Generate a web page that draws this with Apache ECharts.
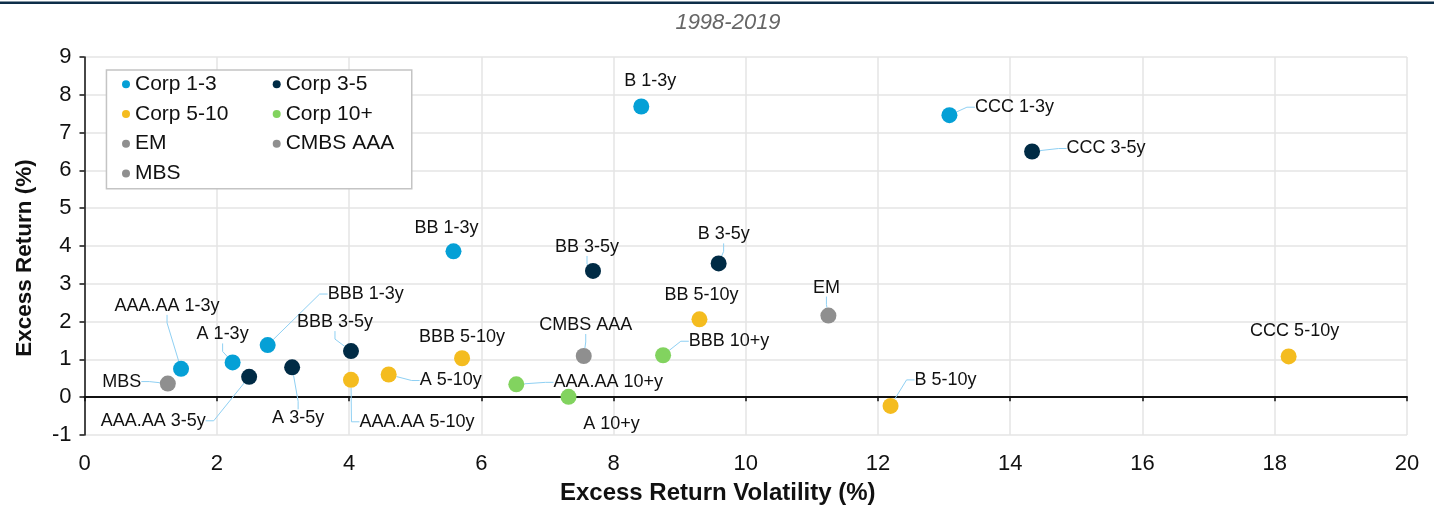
<!DOCTYPE html>
<html>
<head>
<meta charset="utf-8">
<script src="https://cdn.jsdelivr.net/npm/echarts@6.0.0/dist/echarts.min.js"></script>
<style>
  html, body { margin: 0; padding: 0; background: #fff; }
  #chart { width: 1434px; height: 506px; }
</style>
</head>
<body>
<div id="chart"></div>
<script>
  // values: volatility (x) and excess return (y), in %
  const corp13Names = ['AAA.AA 1-3y', 'A 1-3y', 'BBB 1-3y', 'BB 1-3y', 'B 1-3y', 'CCC 1-3y']
  const corp13Vol = [1.46, 2.24, 2.77, 5.58, 8.42, 13.08]
  const corp13Ret = [0.75, 0.92, 1.38, 3.86, 7.69, 7.46]

  const corp35Names = ['AAA.AA 3-5y', 'A 3-5y', 'BBB 3-5y', 'BB 3-5y', 'B 3-5y', 'CCC 3-5y']
  const corp35Vol = [2.49, 3.14, 4.03, 7.69, 9.59, 14.33]
  const corp35Ret = [0.54, 0.79, 1.22, 3.34, 3.54, 6.50]

  const corp510Names = ['AAA.AA 5-10y', 'A 5-10y', 'BBB 5-10y', 'BB 5-10y', 'B 5-10y', 'CCC 5-10y']
  const corp510Vol = [4.03, 4.60, 5.71, 9.30, 12.19, 18.21]
  const corp510Ret = [0.46, 0.60, 1.03, 2.06, -0.23, 1.08]

  const corp10pNames = ['AAA.AA 10+y', 'A 10+y', 'BBB 10+y']
  const corp10pVol = [6.53, 7.32, 8.75]
  const corp10pRet = [0.34, 0.01, 1.11]

  const emNames = ['EM']
  const emVol = [11.25]
  const emRet = [2.16]

  const cmbsNames = ['CMBS AAA']
  const cmbsVol = [7.55]
  const cmbsRet = [1.09]

  const mbsNames = ['MBS']
  const mbsVol = [1.26]
  const mbsRet = [0.36]

  const xTicks = { min: 0, max: 20, step: 2 }
  const yTicks = { min: -1, max: 9, step: 1 }

  // where each label sits relative to its dot (px) and whether it has a leader line
  const labelPlace = {
    'AAA.AA 1-3y': [-14, -63, true],
    'A 1-3y': [-10, -28, true],
    'BBB 1-3y': [98, -51, true],
    'BB 1-3y': [-7, -23, false],
    'B 1-3y': [9, -25, false],
    'CCC 1-3y': [65, -8, true],
    'AAA.AA 3-5y': [-96, 44, true],
    'A 3-5y': [6, 51, true],
    'BBB 3-5y': [-16, -29, true],
    'BB 3-5y': [-6, -24, true],
    'B 3-5y': [5, -29, true],
    'CCC 3-5y': [74, -3, true],
    'AAA.AA 5-10y': [66, 42, true],
    'A 5-10y': [62, 6, true],
    'BBB 5-10y': [0, -21, false],
    'BB 5-10y': [2, -24, false],
    'B 5-10y': [55, -26, true],
    'CCC 5-10y': [6, -25, false],
    'AAA.AA 10+y': [92, -2, true],
    'A 10+y': [43, 27, false],
    'BBB 10+y': [66, -14, true],
    'EM': [-2, -28, true],
    'CMBS AAA': [2, -31, true],
    'MBS': [-46, -2, true]
  }

  const FONT = "'Liberation Sans', Arial, sans-serif"

  function seriesItem(name, color, names, vol, ret) {
    return {
      name: name,
      type: 'scatter',
      symbol: 'circle',
      symbolSize: 16,
      itemStyle: { color: color, opacity: 1 },
      label: {
        show: true,
        position: ['50%', '50%'],
        align: 'center',
        verticalAlign: 'middle',
        formatter: '{b}',
        color: '#111',
        fontSize: 18,
        fontFamily: FONT,
        textBorderWidth: 0
      },
      labelLine: {
        show: true,
        length2: 8,
        lineStyle: { color: '#8fd0f3', width: 1 }
      },
      data: names.map((n, i) => {
        const p = labelPlace[n]
        return {
          name: n,
          value: [vol[i], ret[i]],
          label: { offset: [p[0], p[1]] },
          labelLine: { show: p[2] }
        }
      })
    }
  }

  const chart = echarts.init(document.getElementById('chart'))

  const legendText = { color: '#111', fontSize: 21, fontFamily: FONT, lineHeight: 22 }

  chart.setOption({
    animation: false,
    backgroundColor: '#fff',
    title: {
      text: '1998-2019',
      left: 728,
      top: 12,
      padding: 0,
      textAlign: 'center',
      textStyle: { color: '#666', fontSize: 22, fontStyle: 'italic', fontWeight: 'normal', fontFamily: FONT }
    },
    graphic: [
      // dark rule across the top
      { type: 'rect', left: 0, top: 1.5, z: 10, shape: { width: 1434, height: 2.5 }, style: { fill: '#0d2e49' } },
      // legend frame
      { type: 'rect', left: 105.7, top: 69.3, z: 3, shape: { width: 305.3, height: 118.7 },
        style: { fill: '#fff', stroke: '#c4c4c4', lineWidth: 1.5 } }
    ],
    legend: [
      {
        data: ['Corp 1-3', 'Corp 5-10', 'EM', 'MBS'],
        orient: 'vertical',
        left: 122, top: 73.3, padding: 0,
        itemGap: 7.7, itemWidth: 8, itemHeight: 8,
        icon: 'circle', selectedMode: false,
        textStyle: legendText
      },
      {
        data: ['Corp 3-5', 'Corp 10+', 'CMBS AAA'],
        orient: 'vertical',
        left: 272.7, top: 73.3, padding: 0,
        itemGap: 7.7, itemWidth: 8, itemHeight: 8,
        icon: 'circle', selectedMode: false,
        textStyle: legendText
      }
    ],
    grid: {
      left: 84.5, right: 27, top: 57, bottom: 71,
      containLabel: false,
      outerBoundsMode: 'none'
    },
    xAxis: [
      {
        type: 'value',
        min: xTicks.min, max: xTicks.max, interval: xTicks.step,
        position: 'bottom',
        axisLine: { show: false, onZero: false },
        axisTick: { show: false },
        axisLabel: { color: '#111', fontSize: 22, fontFamily: FONT, margin: 18 },
        splitLine: { show: true, lineStyle: { color: '#e4e4e4', width: 1.5 } },
        name: 'Excess Return Volatility (%)',
        nameLocation: 'middle',
        nameGap: 46,
        nameTextStyle: { color: '#111', fontSize: 24, fontWeight: 'bold', fontFamily: FONT, padding: [0, 56, 0, 0] }
      },
      {
        // zero line with its ticks
        type: 'value',
        min: xTicks.min, max: xTicks.max, interval: xTicks.step,
        position: 'bottom',
        axisLine: { show: true, onZero: true, lineStyle: { color: '#111', width: 2 } },
        axisTick: { show: true, inside: false, length: 4, lineStyle: { color: '#111', width: 1.5 } },
        axisLabel: { show: false },
        splitLine: { show: false }
      }
    ],
    yAxis: {
      type: 'value',
      min: yTicks.min, max: yTicks.max, interval: yTicks.step,
      axisLine: { show: true, onZero: false, lineStyle: { color: '#111', width: 1.5 } },
      axisTick: { show: true, inside: false, length: 5, lineStyle: { color: '#111', width: 1.5 } },
      axisLabel: { color: '#111', fontSize: 22, fontFamily: FONT, margin: 13 },
      splitLine: { show: true, lineStyle: { color: '#e4e4e4', width: 1.5 } },
      name: 'Excess Return (%)',
      nameLocation: 'middle',
      nameGap: 48,
      nameTextStyle: { color: '#111', fontSize: 22.5, fontWeight: 'bold', fontFamily: FONT, padding: [0, 24, 0, 0] }
    },
    series: [
      seriesItem('Corp 1-3', '#05a0d6', corp13Names, corp13Vol, corp13Ret),
      seriesItem('Corp 3-5', '#002b45', corp35Names, corp35Vol, corp35Ret),
      seriesItem('Corp 5-10', '#f4bc1f', corp510Names, corp510Vol, corp510Ret),
      seriesItem('Corp 10+', '#82d35f', corp10pNames, corp10pVol, corp10pRet),
      seriesItem('EM', '#8f8f8f', emNames, emVol, emRet),
      seriesItem('CMBS AAA', '#8f8f8f', cmbsNames, cmbsVol, cmbsRet),
      seriesItem('MBS', '#8f8f8f', mbsNames, mbsVol, mbsRet)
    ]
  })
</script>
</body>
</html>
